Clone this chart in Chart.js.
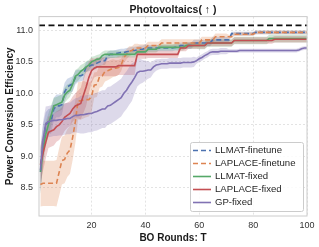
<!DOCTYPE html>
<html>
<head>
<meta charset="utf-8">
<script src="https://cdn.jsdelivr.net/npm/chart.js@4.4.0/dist/chart.umd.min.js"></script>
<style>
  html, body { margin: 0; padding: 0; background: #fff; }
</style>
</head>
<body>
<canvas id="pvChart" width="319" height="247"></canvas>
<script>
// BO rounds 1..100
const rounds = Array.from({length: 100}, (_, i) => i + 1);
const xTicks = [20, 40, 60, 80, 100];
const yTicks = [8.5, 9.0, 9.5, 10.0, 10.5, 11.0];
const bestKnown = 11.08;

const seriesNames = ['LLMAT-finetune', 'LAPLACE-finetune', 'LLMAT-fixed', 'LAPLACE-fixed', 'GP-fixed'];

const llmatFinetune = [
  8.75, 9.20, 9.50, 9.55, 9.56, 9.75, 9.80, 9.80, 9.82, 10.02,
  10.10, 10.13, 10.15, 10.25, 10.28, 10.28, 10.30, 10.42, 10.43, 10.45,
  10.45, 10.48, 10.50, 10.52, 10.52, 10.60, 10.62, 10.62, 10.63, 10.64,
  10.65, 10.65, 10.66, 10.67, 10.68, 10.68, 10.69, 10.70, 10.70, 10.72,
  10.72, 10.72, 10.72, 10.72, 10.72, 10.72, 10.72, 10.72, 10.72, 10.72,
  10.73, 10.73, 10.76, 10.76, 10.76, 10.76, 10.76, 10.80, 10.80, 10.80,
  10.80, 10.80, 10.80, 10.80, 10.85, 10.85, 10.85, 10.85, 10.85, 10.85,
  10.85, 10.95, 10.95, 10.95, 10.95, 10.95, 10.95, 10.95, 10.95, 10.95,
  10.97, 10.97, 10.97, 10.97, 10.97, 10.97, 10.97, 10.97, 10.97, 10.97,
  10.97, 10.97, 10.97, 10.97, 10.97, 10.97, 10.97, 10.97, 10.97, 10.97
];
const llmatFinetuneStd = [
  0.35, 0.30, 0.20, 0.20, 0.20, 0.18, 0.18, 0.18, 0.16, 0.15,
  0.13, 0.12, 0.12, 0.11, 0.10, 0.09, 0.09, 0.08, 0.08, 0.08,
  0.08, 0.08, 0.07, 0.07, 0.07, 0.06, 0.06, 0.06, 0.06, 0.06,
  0.06, 0.06, 0.06, 0.06, 0.06, 0.06, 0.06, 0.06, 0.06, 0.06,
  0.05, 0.05, 0.05, 0.05, 0.05, 0.05, 0.05, 0.05, 0.05, 0.05,
  0.05, 0.05, 0.05, 0.05, 0.05, 0.05, 0.05, 0.05, 0.05, 0.05,
  0.05, 0.05, 0.05, 0.05, 0.05, 0.05, 0.05, 0.05, 0.05, 0.05,
  0.03, 0.03, 0.03, 0.03, 0.03, 0.03, 0.03, 0.03, 0.03, 0.03,
  0.03, 0.03, 0.03, 0.03, 0.03, 0.03, 0.03, 0.03, 0.03, 0.03,
  0.03, 0.03, 0.03, 0.03, 0.03, 0.03, 0.03, 0.03, 0.03, 0.03
];

const laplaceFinetune = [
  8.55, 8.57, 8.57, 8.57, 8.57, 8.57, 8.57, 8.75, 8.93, 8.95,
  9.05, 9.10, 9.30, 9.55, 9.88, 9.88, 9.90, 9.90, 9.90, 9.95,
  10.13, 10.14, 10.27, 10.28, 10.35, 10.36, 10.38, 10.40, 10.40, 10.41,
  10.45, 10.57, 10.62, 10.67, 10.68, 10.72, 10.72, 10.72, 10.72, 10.72,
  10.76, 10.76, 10.76, 10.76, 10.76, 10.80, 10.80, 10.80, 10.80, 10.80,
  10.80, 10.80, 10.80, 10.80, 10.80, 10.80, 10.80, 10.80, 10.80, 10.80,
  10.85, 10.85, 10.85, 10.85, 10.85, 10.90, 10.90, 10.90, 10.90, 10.90,
  10.90, 10.90, 10.94, 10.94, 10.94, 10.94, 10.94, 10.94, 10.94, 10.94,
  10.97, 10.97, 10.97, 10.97, 10.97, 10.97, 10.97, 10.97, 10.97, 10.97,
  10.97, 10.97, 10.97, 10.97, 10.97, 10.97, 10.97, 10.97, 10.97, 10.97
];
const laplaceFinetuneStd = [
  0.35, 0.36, 0.36, 0.36, 0.36, 0.36, 0.37, 0.38, 0.38, 0.38,
  0.38, 0.38, 0.36, 0.34, 0.30, 0.30, 0.30, 0.28, 0.27, 0.25,
  0.20, 0.20, 0.18, 0.17, 0.16, 0.15, 0.15, 0.14, 0.13, 0.12,
  0.10, 0.09, 0.08, 0.08, 0.07, 0.07, 0.07, 0.06, 0.06, 0.06,
  0.06, 0.06, 0.06, 0.06, 0.06, 0.06, 0.06, 0.06, 0.06, 0.06,
  0.06, 0.06, 0.06, 0.06, 0.06, 0.06, 0.06, 0.06, 0.06, 0.06,
  0.05, 0.05, 0.05, 0.05, 0.05, 0.05, 0.05, 0.05, 0.05, 0.05,
  0.03, 0.03, 0.03, 0.03, 0.03, 0.03, 0.03, 0.03, 0.03, 0.03,
  0.03, 0.03, 0.03, 0.03, 0.03, 0.03, 0.03, 0.03, 0.03, 0.03,
  0.03, 0.03, 0.03, 0.03, 0.03, 0.03, 0.03, 0.03, 0.03, 0.03
];

const llmatFixed = [
  8.75, 9.10, 9.35, 9.50, 9.65, 9.80, 9.82, 9.84, 9.86, 9.97,
  10.02, 10.05, 10.15, 10.27, 10.30, 10.35, 10.38, 10.42, 10.45, 10.50,
  10.52, 10.54, 10.55, 10.60, 10.62, 10.62, 10.62, 10.62, 10.62, 10.62,
  10.62, 10.62, 10.62, 10.62, 10.62, 10.62, 10.66, 10.66, 10.66, 10.66,
  10.70, 10.70, 10.70, 10.70, 10.73, 10.73, 10.73, 10.73, 10.73, 10.73,
  10.73, 10.73, 10.73, 10.73, 10.76, 10.76, 10.76, 10.76, 10.76, 10.76,
  10.76, 10.76, 10.80, 10.80, 10.80, 10.80, 10.80, 10.80, 10.80, 10.80,
  10.80, 10.80, 10.84, 10.84, 10.84, 10.84, 10.84, 10.84, 10.84, 10.84,
  10.84, 10.84, 10.84, 10.84, 10.84, 10.87, 10.87, 10.87, 10.87, 10.87,
  10.87, 10.87, 10.87, 10.87, 10.87, 10.87, 10.87, 10.87, 10.87, 10.87
];
const llmatFixedStd = [
  0.35, 0.25, 0.20, 0.18, 0.16, 0.13, 0.12, 0.12, 0.12, 0.12,
  0.12, 0.11, 0.10, 0.10, 0.10, 0.10, 0.09, 0.09, 0.08, 0.08,
  0.07, 0.07, 0.07, 0.06, 0.06, 0.06, 0.06, 0.06, 0.06, 0.06,
  0.05, 0.05, 0.05, 0.05, 0.05, 0.05, 0.05, 0.05, 0.05, 0.05,
  0.05, 0.05, 0.05, 0.05, 0.05, 0.05, 0.05, 0.05, 0.05, 0.05,
  0.05, 0.05, 0.05, 0.05, 0.05, 0.05, 0.05, 0.05, 0.05, 0.06,
  0.06, 0.06, 0.06, 0.06, 0.06, 0.06, 0.06, 0.06, 0.06, 0.06,
  0.06, 0.06, 0.06, 0.06, 0.06, 0.06, 0.06, 0.06, 0.06, 0.06,
  0.06, 0.06, 0.06, 0.06, 0.06, 0.06, 0.06, 0.06, 0.06, 0.06,
  0.06, 0.06, 0.06, 0.06, 0.06, 0.06, 0.06, 0.06, 0.06, 0.06
];

const laplaceFixed = [
  8.86, 9.05, 9.22, 9.38, 9.40, 9.42, 9.47, 9.50, 9.55, 9.62,
  9.65, 9.68, 9.75, 9.80, 9.82, 9.84, 9.97, 10.10, 10.25, 10.36,
  10.40, 10.42, 10.42, 10.42, 10.42, 10.42, 10.42, 10.42, 10.42, 10.44,
  10.44, 10.44, 10.44, 10.44, 10.44, 10.44, 10.62, 10.62, 10.62, 10.62,
  10.62, 10.62, 10.62, 10.62, 10.62, 10.62, 10.62, 10.62, 10.62, 10.62,
  10.62, 10.62, 10.72, 10.72, 10.72, 10.76, 10.76, 10.76, 10.76, 10.76,
  10.76, 10.76, 10.80, 10.80, 10.80, 10.80, 10.80, 10.80, 10.80, 10.80,
  10.80, 10.80, 10.84, 10.84, 10.84, 10.84, 10.84, 10.84, 10.84, 10.84,
  10.84, 10.84, 10.84, 10.84, 10.84, 10.84, 10.84, 10.86, 10.86, 10.86,
  10.86, 10.86, 10.86, 10.86, 10.86, 10.86, 10.86, 10.86, 10.86, 10.86
];
const laplaceFixedStd = [
  0.30, 0.28, 0.26, 0.25, 0.25, 0.25, 0.24, 0.24, 0.23, 0.22,
  0.20, 0.20, 0.20, 0.20, 0.22, 0.25, 0.28, 0.30, 0.25, 0.20,
  0.15, 0.15, 0.15, 0.15, 0.15, 0.15, 0.15, 0.15, 0.15, 0.15,
  0.15, 0.15, 0.15, 0.15, 0.15, 0.15, 0.07, 0.07, 0.07, 0.07,
  0.06, 0.06, 0.06, 0.06, 0.06, 0.06, 0.06, 0.06, 0.06, 0.06,
  0.06, 0.06, 0.05, 0.05, 0.05, 0.05, 0.05, 0.05, 0.05, 0.05,
  0.05, 0.05, 0.05, 0.05, 0.05, 0.05, 0.05, 0.05, 0.05, 0.05,
  0.05, 0.05, 0.05, 0.05, 0.05, 0.05, 0.05, 0.05, 0.05, 0.05,
  0.05, 0.05, 0.05, 0.05, 0.05, 0.05, 0.05, 0.05, 0.05, 0.05,
  0.05, 0.05, 0.05, 0.05, 0.05, 0.05, 0.05, 0.05, 0.05, 0.05
];

const gpFixed = [
  8.78, 9.25, 9.52, 9.55, 9.56, 9.57, 9.57, 9.58, 9.58, 9.59,
  9.60, 9.60, 9.63, 9.65, 9.65, 9.66, 9.66, 9.67, 9.68, 9.68,
  9.70, 9.71, 9.73, 9.75, 9.75, 9.80, 9.81, 9.84, 9.87, 9.90,
  9.93, 10.00, 10.05, 10.12, 10.18, 10.25, 10.33, 10.35, 10.35, 10.36,
  10.37, 10.37, 10.42, 10.45, 10.46, 10.47, 10.47, 10.47, 10.48, 10.48,
  10.48, 10.48, 10.48, 10.49, 10.49, 10.49, 10.49, 10.50, 10.52, 10.55,
  10.57, 10.60, 10.62, 10.65, 10.66, 10.66, 10.66, 10.67, 10.67, 10.67,
  10.67, 10.67, 10.67, 10.67, 10.68, 10.68, 10.68, 10.68, 10.68, 10.68,
  10.68, 10.68, 10.68, 10.68, 10.68, 10.68, 10.68, 10.68, 10.68, 10.68,
  10.68, 10.68, 10.68, 10.68, 10.68, 10.68, 10.69, 10.71, 10.72, 10.72
];
const gpFixedStd = [
  0.35, 0.30, 0.27, 0.25, 0.25, 0.25, 0.25, 0.25, 0.25, 0.25,
  0.25, 0.25, 0.26, 0.27, 0.28, 0.30, 0.30, 0.30, 0.30, 0.30,
  0.30, 0.30, 0.30, 0.30, 0.30, 0.30, 0.30, 0.30, 0.30, 0.30,
  0.30, 0.30, 0.30, 0.30, 0.30, 0.25, 0.22, 0.20, 0.18, 0.16,
  0.14, 0.12, 0.10, 0.09, 0.08, 0.08, 0.08, 0.08, 0.08, 0.08,
  0.08, 0.08, 0.08, 0.08, 0.08, 0.08, 0.08, 0.08, 0.05, 0.05,
  0.05, 0.05, 0.05, 0.05, 0.05, 0.05, 0.05, 0.05, 0.05, 0.05,
  0.03, 0.03, 0.03, 0.03, 0.03, 0.03, 0.03, 0.03, 0.03, 0.03,
  0.03, 0.03, 0.03, 0.03, 0.03, 0.03, 0.03, 0.03, 0.03, 0.03,
  0.03, 0.03, 0.03, 0.03, 0.03, 0.03, 0.03, 0.03, 0.03, 0.03
];

const xMin = 0.5, xMax = 100;
const yMin = 8.05, yMax = 11.22;

const FONT = '"Liberation Sans", Arial, Helvetica, sans-serif';
const styles = [
  {color: '#4c72b0', fill: 'rgba(76,114,176,0.27)', dash: [5, 3]},
  {color: '#dd8452', fill: 'rgba(221,132,82,0.27)', dash: [5, 3]},
  {color: '#55a868', fill: 'rgba(85,168,104,0.27)', dash: []},
  {color: '#c44e52', fill: 'rgba(196,78,82,0.27)', dash: []},
  {color: '#8172b3', fill: 'rgba(129,114,179,0.27)', dash: []}
];
const means = [llmatFinetune, laplaceFinetune, llmatFixed, laplaceFixed, gpFixed];
const stds = [llmatFinetuneStd, laplaceFinetuneStd, llmatFixedStd, laplaceFixedStd, gpFixedStd];

function pts(ys) {
  return rounds.map((x, i) => ({x: x, y: ys[i]}));
}

const datasets = [];
means.forEach((m, k) => {
  const s = stds[k];
  datasets.push({
    label: 'lower', data: pts(m.map((v, i) => v - s[i])),
    borderWidth: 0, pointRadius: 0, fill: false, order: 20 - k
  });
  datasets.push({
    label: 'upper', data: pts(m.map((v, i) => v + s[i])),
    borderWidth: 0, pointRadius: 0, fill: '-1', backgroundColor: styles[k].fill, order: 20 - k
  });
});
means.forEach((m, k) => {
  datasets.push({
    label: seriesNames[k], data: pts(m),
    borderColor: styles[k].color, borderWidth: 1.6, borderDash: styles[k].dash,
    pointRadius: 0, fill: false, order: 10 - k
  });
});
datasets.push({
  label: 'best', data: [{x: xMin, y: bestKnown}, {x: xMax, y: bestKnown}],
  borderColor: '#111', borderWidth: 1.8, borderDash: [6, 3.5], pointRadius: 0, fill: false, order: 0
});

// frame on all four sides, like the seaborn whitegrid spines
const framePlugin = {
  id: 'frame',
  afterDraw(chart) {
    const {ctx, chartArea: a} = chart;
    ctx.save();
    ctx.strokeStyle = '#cccccc';
    ctx.lineWidth = 1;
    ctx.strokeRect(a.left, a.top, a.right - a.left, a.bottom - a.top);
    ctx.restore();
  }
};

// legend box inside the plot, lower right
const legendPlugin = {
  id: 'innerLegend',
  afterDraw(chart) {
    const {ctx, chartArea: a} = chart;
    const w = 113, h = 69;
    const x0 = a.right - w - 4, y0 = a.bottom - h - 5;
    ctx.save();
    ctx.fillStyle = 'rgba(255,255,255,0.85)';
    ctx.strokeStyle = '#cccccc';
    ctx.lineWidth = 1;
    ctx.beginPath();
    ctx.roundRect(x0 + 0.5, y0 + 0.5, w, h, 2);
    ctx.fill();
    ctx.stroke();
    ctx.font = '9.6px ' + FONT;
    ctx.textBaseline = 'middle';
    ctx.fillStyle = '#262626';
    seriesNames.forEach((name, k) => {
      const y = y0 + 8.5 + k * 13;
      ctx.beginPath();
      ctx.strokeStyle = styles[k].color;
      ctx.lineWidth = 1.6;
      ctx.setLineDash(styles[k].dash);
      ctx.moveTo(x0 + 3, y);
      ctx.lineTo(x0 + 21, y);
      ctx.stroke();
      ctx.setLineDash([]);
      ctx.fillText(name, x0 + 25, y);
    });
    ctx.restore();
  }
};

new Chart(document.getElementById('pvChart'), {
  type: 'line',
  data: {datasets: datasets},
  plugins: [framePlugin, legendPlugin],
  options: {
    responsive: false,
    animation: false,
    devicePixelRatio: 1,
    layout: {padding: {left: 0, right: 12, top: 0, bottom: 0}},
    plugins: {
      legend: {display: false},
      tooltip: {enabled: false},
      title: {
        display: true,
        fullSize: false,
        text: 'Photovoltaics( ↑ )',
        color: '#1a1a1a',
        font: {family: FONT, size: 10.5, weight: 'bold'},
        padding: {top: 4, bottom: 0}
      }
    },
    scales: {
      x: {
        type: 'linear', min: xMin, max: xMax,
        afterBuildTicks: s => { s.ticks = xTicks.map(v => ({value: v})); },
        afterFit: s => { s.height = 31; },
        ticks: {color: '#333', font: {family: FONT, size: 9}, padding: 4},
        grid: {color: '#dcdcdc', lineWidth: 0.8, drawTicks: false},
        border: {display: false, dash: [2, 2]},
        title: {
          display: true, text: 'BO Rounds: T', color: '#1a1a1a',
          font: {family: FONT, size: 10, weight: 'bold'}, padding: {top: 0, bottom: 3}
        }
      },
      y: {
        type: 'linear', min: yMin, max: yMax,
        afterBuildTicks: s => { s.ticks = yTicks.map(v => ({value: v})); },
        afterFit: s => { s.width = 39; },
        ticks: {color: '#333', font: {family: FONT, size: 9}, padding: 6,
                callback: v => v.toFixed(1)},
        grid: {color: '#dcdcdc', lineWidth: 0.8, drawTicks: false},
        border: {display: false, dash: [2, 2]},
        title: {
          display: true, text: 'Power Conversion Efficiency', color: '#1a1a1a',
          font: {family: FONT, size: 10, weight: 'bold'}, padding: {top: 4, bottom: 0}
        }
      }
    }
  }
});
</script>
</body>
</html>
